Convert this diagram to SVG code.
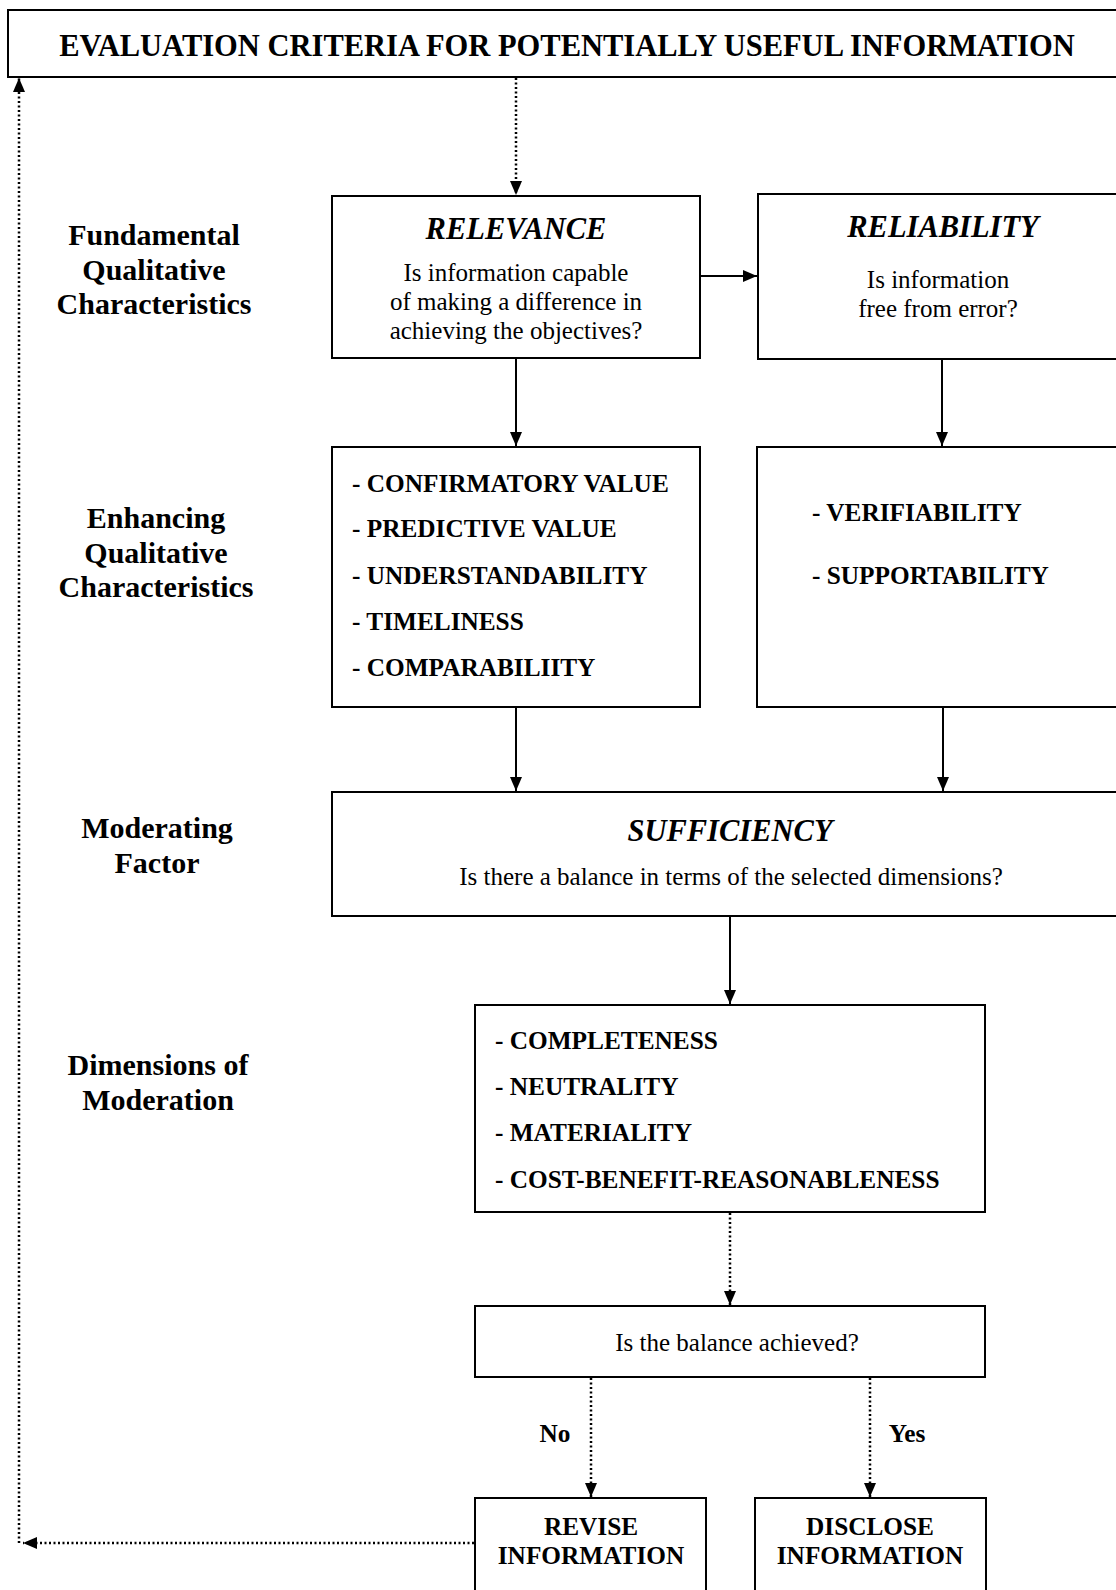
<svg xmlns="http://www.w3.org/2000/svg" width="1116" height="1590" viewBox="0 0 1116 1590">
<defs>
<style>
.box{fill:#fff;stroke:#000;stroke-width:2}
.t{font-family:"Liberation Serif","Times New Roman",serif;fill:#000}
.title{font-size:30.5px;font-weight:bold}
.head{font-size:30.5px;font-weight:bold;font-style:italic}
.body{font-size:25px}
.item{font-size:25.3px;font-weight:bold}
.lab{font-size:30px;font-weight:bold}
.solid{stroke:#000;stroke-width:2;fill:none}
.dot{stroke:#000;stroke-width:2.5;fill:none;stroke-dasharray:2 2.5}
</style>
<marker id="ah" viewBox="0 0 14 12" refX="14" refY="6" markerWidth="14" markerHeight="12" markerUnits="userSpaceOnUse" orient="auto">
<path d="M0,0 L14,6 L0,12 Z" fill="#000"/>
</marker>
</defs>
<rect width="1116" height="1590" fill="#fff"/>

<g id="title">
<rect class="box" x="8" y="10" width="1120" height="67"/>
<text class="t title" x="567" y="56" text-anchor="middle">EVALUATION CRITERIA FOR POTENTIALLY USEFUL INFORMATION</text>
</g>

<g id="labels">
<g id="label-fundamental">
<text class="t lab" x="154" y="245" text-anchor="middle">Fundamental</text>
<text class="t lab" x="154" y="280" text-anchor="middle">Qualitative</text>
<text class="t lab" x="154" y="314" text-anchor="middle">Characteristics</text>
</g>
<g id="label-enhancing">
<text class="t lab" x="156" y="528" text-anchor="middle">Enhancing</text>
<text class="t lab" x="156" y="563" text-anchor="middle">Qualitative</text>
<text class="t lab" x="156" y="597" text-anchor="middle">Characteristics</text>
</g>
<g id="label-moderating">
<text class="t lab" x="157" y="838" text-anchor="middle">Moderating</text>
<text class="t lab" x="157" y="873" text-anchor="middle">Factor</text>
</g>
<g id="label-dimensions">
<text class="t lab" x="158" y="1075" text-anchor="middle">Dimensions of</text>
<text class="t lab" x="158" y="1110" text-anchor="middle">Moderation</text>
</g>
</g>

<g id="relevance">
<rect class="box" x="332" y="196" width="368" height="162"/>
<text class="t head" x="516" y="239" text-anchor="middle">RELEVANCE</text>
<text class="t body" x="516" y="281" text-anchor="middle">Is information capable</text>
<text class="t body" x="516" y="310" text-anchor="middle">of making a difference in</text>
<text class="t body" x="516" y="339" text-anchor="middle">achieving the objectives?</text>
</g>

<g id="reliability">
<rect class="box" x="758" y="194" width="370" height="165"/>
<text class="t head" x="943" y="237" text-anchor="middle">RELIABILITY</text>
<text class="t body" x="938" y="288" text-anchor="middle">Is information</text>
<text class="t body" x="938" y="317" text-anchor="middle">free from error?</text>
</g>

<g id="enhancing-relevance">
<rect class="box" x="332" y="447" width="368" height="260"/>
<text class="t item" x="352" y="492">- CONFIRMATORY VALUE</text>
<text class="t item" x="352" y="537">- PREDICTIVE VALUE</text>
<text class="t item" x="352" y="584">- UNDERSTANDABILITY</text>
<text class="t item" x="352" y="630">- TIMELINESS</text>
<text class="t item" x="352" y="676">- COMPARABILIITY</text>
</g>

<g id="enhancing-reliability">
<rect class="box" x="757" y="447" width="371" height="260"/>
<text class="t item" x="812" y="521">- VERIFIABILITY</text>
<text class="t item" x="812" y="584">- SUPPORTABILITY</text>
</g>

<g id="sufficiency">
<rect class="box" x="332" y="792" width="796" height="124"/>
<text class="t head" x="730" y="841" text-anchor="middle">SUFFICIENCY</text>
<text class="t body" x="731" y="885" text-anchor="middle">Is there a balance in terms of the selected dimensions?</text>
</g>

<g id="dimensions">
<rect class="box" x="475" y="1005" width="510" height="207"/>
<text class="t item" x="495" y="1049">- COMPLETENESS</text>
<text class="t item" x="495" y="1095">- NEUTRALITY</text>
<text class="t item" x="495" y="1141">- MATERIALITY</text>
<text class="t item" x="495" y="1188">- COST-BENEFIT-REASONABLENESS</text>
</g>

<g id="balance">
<rect class="box" x="475" y="1306" width="510" height="71"/>
<text class="t body" x="737" y="1351" text-anchor="middle">Is the balance achieved?</text>
</g>

<g id="revise">
<rect class="box" x="475" y="1498" width="231" height="110"/>
<text class="t item" x="591" y="1535" text-anchor="middle">REVISE</text>
<text class="t item" x="591" y="1564" text-anchor="middle">INFORMATION</text>
</g>

<g id="disclose">
<rect class="box" x="755" y="1498" width="231" height="110"/>
<text class="t item" x="870" y="1535" text-anchor="middle">DISCLOSE</text>
<text class="t item" x="870" y="1564" text-anchor="middle">INFORMATION</text>
</g>

<g id="connectors">
<line class="dot" x1="516" y1="78" x2="516" y2="195" marker-end="url(#ah)"/>
<line class="solid" x1="700" y1="276" x2="757" y2="276" marker-end="url(#ah)"/>
<line class="solid" x1="516" y1="358" x2="516" y2="446" marker-end="url(#ah)"/>
<line class="solid" x1="942" y1="359" x2="942" y2="446" marker-end="url(#ah)"/>
<line class="solid" x1="516" y1="707" x2="516" y2="791" marker-end="url(#ah)"/>
<line class="solid" x1="943" y1="707" x2="943" y2="791" marker-end="url(#ah)"/>
<line class="solid" x1="730" y1="916" x2="730" y2="1004" marker-end="url(#ah)"/>
<line class="dot" x1="730" y1="1213" x2="730" y2="1305" marker-end="url(#ah)"/>
<line class="dot" x1="591" y1="1378" x2="591" y2="1497" marker-end="url(#ah)"/>
<line class="dot" x1="870" y1="1378" x2="870" y2="1497" marker-end="url(#ah)"/>
<line class="dot" x1="474" y1="1543" x2="23" y2="1543" marker-end="url(#ah)"/>
<line class="dot" x1="19" y1="1543" x2="19" y2="78" marker-end="url(#ah)"/>
<text class="t item" x="555" y="1442" text-anchor="middle">No</text>
<text class="t item" x="907" y="1442" text-anchor="middle">Yes</text>
</g>
</svg>
